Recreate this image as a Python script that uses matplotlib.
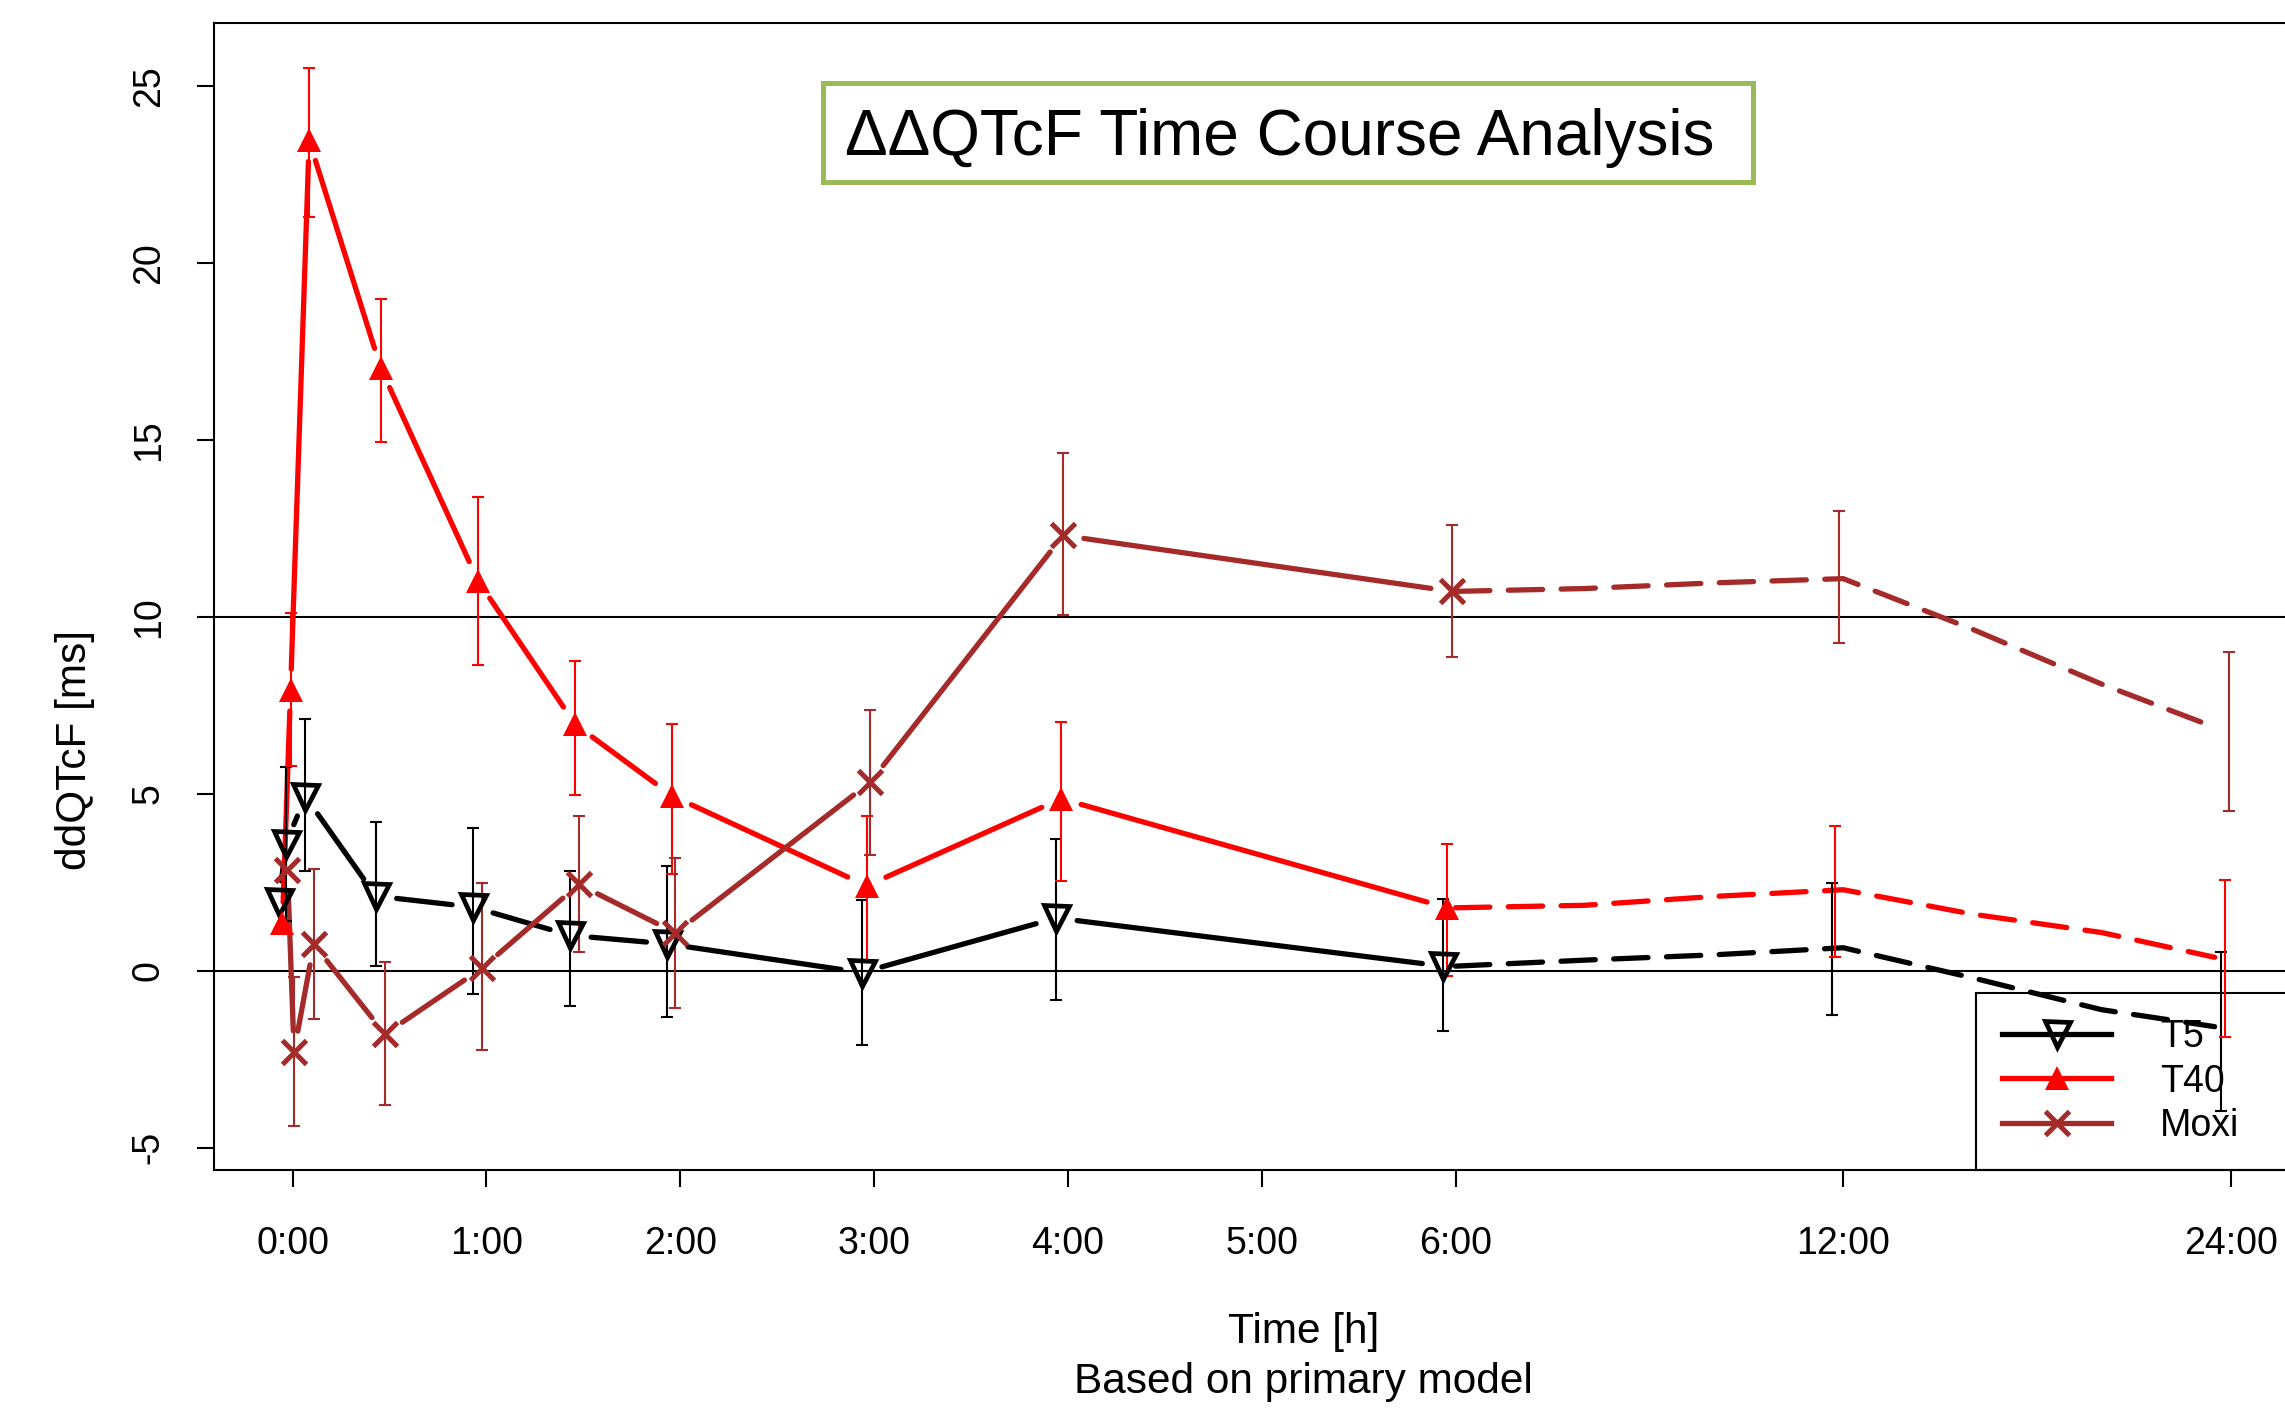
"""ddQTcF time course: three treatment arms with CI bars, R-style 'b' lines."""
import numpy as np
import matplotlib

matplotlib.use("Agg")

import matplotlib.pyplot as plt  # noqa: E402
from matplotlib.lines import Line2D  # noqa: E402
from matplotlib.patches import Rectangle  # noqa: E402
from matplotlib.ticker import NullLocator  # noqa: E402

plt.rcParams["font.family"] = ["Liberation Sans", "DejaVu Sans"]

# ---- data (hours, ms) -------------------------------------------------------
nan = np.nan
series_names = ["T5", "T40", "Moxi"]

t5_x = [-0.07, -0.036, 0.066, 0.429, 0.930, 1.432, 1.933, 2.936, 3.94, 5.936]
t5_y = [1.95, 3.58, 4.92, 2.11, 1.80, 1.00, 0.76, -0.05, 1.49, 0.13]
t5_lo = [nan, 1.40, 2.83, 0.14, -0.66, -0.99, -1.30, -2.10, -0.84, -1.70]
t5_hi = [nan, 5.76, 7.11, 4.19, 4.03, 2.81, 2.95, 2.01, 3.71, 2.03]

t40_x = [-0.053, -0.011, 0.085, 0.455, 0.956, 1.458, 1.959, 2.962, 3.964, 5.957]
t40_y = [1.34, 7.93, 23.46, 17.02, 11.02, 6.96, 4.94, 2.40, 4.86, 1.78]
t40_lo = [nan, 5.78, 21.29, 14.94, 8.63, 4.97, 2.73, 0.25, 2.54, -0.15]
t40_hi = [nan, 10.10, 25.52, 18.99, 13.38, 8.74, 6.98, 4.36, 7.04, 3.58]

moxi_x = [-0.027, 0.007, 0.109, 0.476, 0.976, 1.476, 1.975, 2.98, 3.975, 5.98]
moxi_y = [2.86, -2.29, 0.75, -1.79, 0.07, 2.44, 1.07, 5.33, 12.30, 10.72]
moxi_lo = [nan, -4.40, -1.36, -3.78, -2.24, 0.53, -1.05, 3.27, 10.04, 8.87]
moxi_hi = [nan, -0.19, 2.88, 0.25, 2.49, 4.36, 3.19, 7.37, 14.64, 12.59]

# late model curve (dashed) after 6 h
tail_x = [6, 8, 10, 12, 16, 20, 23.5]
t5_tail = [0.13, 0.30, 0.45, 0.65, -0.20, -1.10, -1.58]
t40_tail = [1.78, 1.85, 2.10, 2.29, 1.60, 1.08, 0.38]
moxi_tail = [10.72, 10.80, 10.96, 11.08, 9.65, 8.10, 6.88]

# CIs at 12 h and 24 h (no marker there)
t5_late_x, t5_late_lo, t5_late_hi = [11.82, 23.70], [-1.24, -3.96], [2.48, 0.54]
t40_late_x, t40_late_lo, t40_late_hi = [11.88, 23.82], [0.40, -1.88], [4.10, 2.56]
moxi_late_x, moxi_late_lo, moxi_late_hi = [11.94, 23.94], [9.27, 4.51], [13.00, 9.00]

x_ticks = [0, 1, 2, 3, 4, 5, 6, 12, 24]
x_tick_labels = ["0:00", "1:00", "2:00", "3:00", "4:00", "5:00", "6:00", "12:00", "24:00"]
y_ticks = [-5, 0, 5, 10, 15, 20, 25]
ref_lines = [0, 10]

# ---- styling ----------------------------------------------------------------
W, H = 2285, 1412
FS = 27
LAB_FS = 30.5
LW = 3.8
GAP = 21  # px, R type="b" gap around points


def hours_to_axis(h):
    return np.interp(h, [-100, 6, 12, 48], [-100, 6, 8, 14])


def axis_to_hours(u):
    return np.interp(u, [-100, 6, 8, 14], [-100, 6, 12, 48])


def gapped(ax, x, y, gap):
    pts = ax.transData.transform(np.column_stack([x, y]))
    inv = ax.transData.inverted()
    xs, ys = [], []
    for p0, p1 in zip(pts[:-1], pts[1:]):
        d = p1 - p0
        L = np.hypot(*d)
        if L <= 2 * gap:
            continue
        u = d / L
        seg = inv.transform([p0 + u * gap, p1 - u * gap])
        xs += [seg[0, 0], seg[1, 0], np.nan]
        ys += [seg[0, 1], seg[1, 1], np.nan]
    return xs, ys


fig = plt.figure(figsize=(W / 100, H / 100), dpi=100)
fig.patch.set_facecolor("white")
ax = fig.add_axes((214 / W, 242 / H, 2104 / W, 1147 / H))
ax.set_xscale("function", functions=(hours_to_axis, axis_to_hours))
ax.set_xlim(-0.406, 26.7)
ax.set_ylim(-5.63, 26.78)

for v in ref_lines:
    ax.axhline(v, color="black", lw=1.5, zorder=1)

series = [
    ("T5", "black", dict(marker="v", ms=18, mfc="none", mew=3.4),
     t5_x, t5_y, t5_lo, t5_hi, t5_tail, t5_late_x, t5_late_lo, t5_late_hi),
    ("T40", "#ff0000", dict(marker="^", ms=17, mfc="#ff0000", mew=0),
     t40_x, t40_y, t40_lo, t40_hi, t40_tail, t40_late_x, t40_late_lo, t40_late_hi),
    ("Moxi", "#a52a2a", dict(marker="x", ms=17.5, mew=3.6),
     moxi_x, moxi_y, moxi_lo, moxi_hi, moxi_tail, moxi_late_x, moxi_late_lo, moxi_late_hi),
]

handles = []
for name, col, mk, x, y, lo, hi, tail, lx, llo, lhi in series:
    x, y, lo, hi = map(np.asarray, (x, y, lo, hi))
    gx, gy = gapped(ax, x, y, GAP)
    ax.plot(gx, gy, color=col, lw=LW, solid_capstyle="round", zorder=2)
    ax.plot(tail_x, tail, color=col, lw=LW, ls=(0, (6.5, 3.5)), dash_capstyle="round", zorder=2)

    ax.errorbar(x, y, yerr=[y - lo, hi - y], fmt="none", ecolor=col,
                elinewidth=1.5, capsize=4, capthick=1.5, zorder=3)
    llo, lhi = np.asarray(llo), np.asarray(lhi)
    ax.errorbar(lx, (llo + lhi) / 2, yerr=(lhi - llo) / 2, fmt="none", ecolor=col,
                elinewidth=1.5, capsize=4, capthick=1.5, zorder=3)

    ax.plot(x, y, ls="none", color=col, zorder=4, **mk)
    handles.append(Line2D([], [], color=col, lw=LW, **mk))

# axes cosmetics, R base-graphics look
for sp in ax.spines.values():
    sp.set_linewidth(1.5)
ax.set_xticks(x_ticks, x_tick_labels)
ax.xaxis.set_minor_locator(NullLocator())
ax.set_yticks(y_ticks, [str(v) for v in y_ticks])
ax.tick_params(axis="both", length=12, width=1.5, labelsize=FS)
ax.tick_params(axis="x", pad=28)
ax.tick_params(axis="y", pad=22)
for lab in ax.get_yticklabels():
    lab.set_rotation(90)
    lab.set_va("center")

ax.set_ylabel("ddQTcF [ms]", fontsize=LAB_FS, va="center")
ax.yaxis.set_label_coords(-0.066, 0.366)
ax.set_xlabel("Time [h]\nBased on primary model", fontsize=LAB_FS, va="center", linespacing=1.3)
ax.xaxis.set_label_coords(0.518, -0.163)

# legend sits under the curves, as in the R original
leg = ax.legend(handles, series_names, loc="lower left",
                bbox_to_anchor=(0.8375, 0.0, 0.1625, 0.156), mode="expand",
                borderaxespad=0, fontsize=FS, handlelength=2.9, handletextpad=1.3,
                labelspacing=0.22, borderpad=0.7, fancybox=False, framealpha=1,
                edgecolor="black")
leg.get_frame().set_linewidth(1.5)
leg.set_zorder(1.5)

# title box
fig.patches.append(Rectangle((823 / W, 1 - 182 / H), 930 / W, 99 / H, transform=fig.transFigure,
                             facecolor="white", edgecolor="#9bbb59", linewidth=3.6, zorder=5))
fig.text(845 / W, 1 - 155 / H, "ΔΔQTcF Time Course Analysis", fontsize=46,
         ha="left", va="baseline", color="black", zorder=6)

fig.savefig("out.png", dpi=100)
